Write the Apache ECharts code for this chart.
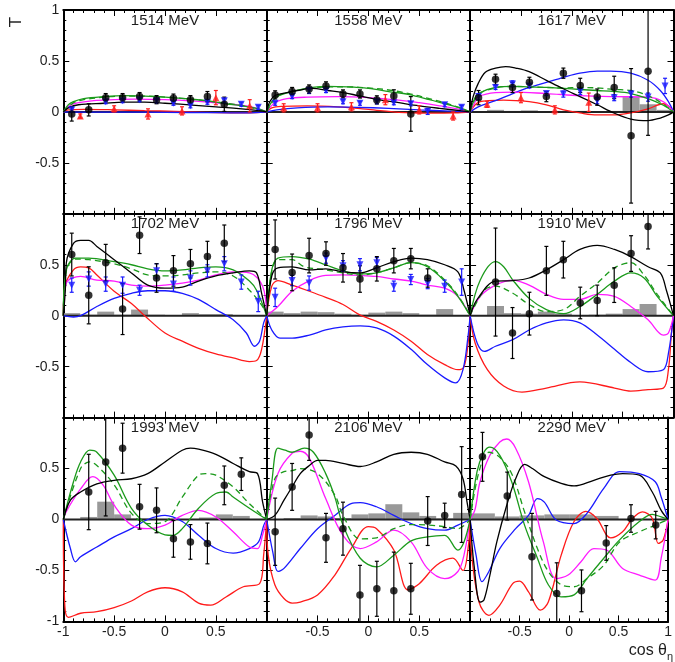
<!DOCTYPE html>
<html>
<head>
<meta charset="utf-8">
<script src="https://cdn.jsdelivr.net/npm/echarts@6/dist/echarts.min.js"></script>
<style>
html,body{margin:0;padding:0;background:#fff;}
#chart{width:675px;height:662px;}
</style>
</head>
<body>
<div id="chart"></div>
<script>
// Beam-target asymmetry T versus cos(theta_eta), nine energy bins.

const energyLabels = ['1514 MeV','1558 MeV','1617 MeV','1702 MeV','1796 MeV','1910 MeV','1993 MeV','2106 MeV','2290 MeV'];

// angular bin centres
const cos12 = [-0.917,-0.75,-0.583,-0.417,-0.25,-0.083,0.083,0.25,0.417,0.583,0.75,0.917];
const cos8 = [-0.875,-0.625,-0.375,-0.125,0.125,0.375,0.625,0.875];
const cos6 = [-0.833,-0.5,-0.167,0.167,0.5,0.833];

// filled circles: T and uncertainty
const dotT_1514 = [-0.02,0.02,0.14,0.14,0.15,0.12,0.135,0.12,0.15,0.075,null,null];
const dotE_1514 = [0.07,0.06,0.04,0.04,0.04,0.04,0.04,0.04,0.05,0.07,0,0];
const dotT_1558 = [0.167,0.2,0.225,0.255,0.176,0.176,0.118,0.157,-0.02,null,null,null];
const dotE_1558 = [0.04,0.04,0.04,0.04,0.04,0.04,0.04,0.06,0.17,0,0,0];
const dotT_1617 = [0.14,0.32,0.24,0.29,0.15,0.38,0.26,0.145,0.24,-0.235,0.40,null];
const dotE_1617 = [0.07,0.05,0.05,0.05,0.05,0.05,0.07,0.08,0.11,0.66,0.63,0];
const dotT_1702 = [0.60,0.20,0.52,0.065,0.79,0.37,0.44,0.51,0.58,0.71,null,null];
const dotE_1702 = [0.21,0.28,0.18,0.25,0.18,0.14,0.15,0.14,0.15,0.18,0,0];
const dotT_1796 = [0.65,0.425,0.59,0.61,0.47,0.36,0.46,0.54,0.56,0.37,null,null];
const dotE_1796 = [0.29,0.18,0.17,0.115,0.14,0.13,0.12,0.12,0.1,0.09,0,0];
const dotT_1910 = [null,0.33,-0.17,0.02,0.44,0.55,0.125,0.15,0.30,0.61,0.875,null];
const dotE_1910 = [0,0.53,0.25,0.21,0.24,0.18,0.155,0.15,0.17,0.175,0.22,0];
const dotT_1993 = [null,0.27,0.565,0.70,0.125,0.09,-0.19,-0.22,-0.235,0.335,0.445,null];
const dotE_1993 = [0,0.37,0.53,0.245,0.22,0.22,0.18,0.17,0.2,0.19,0.16,0];
const dotT_2106 = [-0.12,0.32,0.83,-0.18,-0.09,-0.74,-0.68,-0.70,-0.68,-0.015,0.04,0.245];
const dotE_2106 = [0.33,0.23,0.25,0.24,0.26,0.29,0.27,0.38,0.25,0.24,0.12,0.47];
const dotT_2290 = [0.615,0.23,-0.365,-0.725,-0.70,-0.23,0.01,-0.055];
const dotE_2290 = [0.24,0.235,0.425,0.3,0.205,0.17,0.135,0.135];

// red up-triangles
const upT_1514 = [-0.04,0.03,-0.02,0.01,0.14,0.06];
const upE_1514 = [0.02,0.03,0.05,0.04,0.07,0.06];
const upT_1558 = [0.04,0.04,0.05,0.12,0.02,-0.04];
const upE_1558 = [0.04,0.04,0.04,0.05,0.04,0.04];
const upT_1617 = [0.075,0.14,0.02,0.095,null,null];
const upE_1617 = [0.03,0.05,0.04,0.09,0,0];

// blue down-triangles
const downT_1514 = [0.02,null,0.10,0.11,0.12,0.11,0.085,0.06,0.095,0.11,0.075,0.045];
const downE_1514 = [0.02,0,0.02,0.02,0.02,0.02,0.02,0.02,0.02,0.02,0.02,0.02];
const downT_1558 = [0.085,0.15,0.21,0.21,0.10,0.085,0.10,0.09,0.08,0.005,0.07,0.045];
const downE_1558 = [0.02,0.02,0.03,0.02,0.02,0.02,0.02,0.02,0.02,0.03,0.02,0.02];
const downT_1617 = [0.15,0.24,0.275,0.255,0.18,0.175,0.20,0.11,0.14,0.175,0.145,0.255];
const downE_1617 = [0.03,0.02,0.03,0.02,0.02,0.03,0.03,0.03,0.03,0.03,0.04,0.075];
const downT_1702 = [0.30,0.36,0.31,0.30,0.25,0.44,0.31,0.37,0.44,0.51,0.33,0.14];
const downE_1702 = [0.07,0.07,0.07,0.08,0.05,0.07,0.07,0.07,0.06,0.07,0.07,0.1];
const downT_1796 = [0.18,0.345,0.32,0.565,0.49,0.50,0.52,0.29,0.355,0.315,0.29,0.33];
const downE_1796 = [0.09,0.05,0.07,0.05,0.05,0.06,0.05,0.05,0.05,0.05,0.06,0.13];

// systematic uncertainty (grey histogram)
const sys_1514 = [0,0,0,0,0,0,0,0,0,0,0,0];
const sys_1558 = [0,0,0,0,0,0,0,0,0,0,0,0];
const sys_1617 = [0.005,0.02,0.01,0.015,0.005,0.01,0.01,0.005,0.01,0.145,0.075,0.02];
const sys_1702 = [0.025,0.01,0.04,0.01,0.06,0.01,0.005,0.025,0.015,0.015,0,0.005];
const sys_1796 = [0.04,0.025,0.04,0.035,0.02,0.01,0.03,0.04,0.025,0.01,0.065,0];
const sys_1910 = [0,0.095,0.025,0.02,0.04,0.02,0.005,0.01,0.02,0.065,0.115,0];
const sys_1993 = [0,0.025,0.175,0.05,0.01,0.005,0,0.005,0.02,0.05,0.035,0];
const sys_2106 = [0.005,0.015,0.04,0.03,0.015,0.05,0.06,0.15,0.07,0.035,0.01,0.065];
const sys_2290 = [0.06,0.03,0.04,0.05,0.05,0.035,0.005,0.005];

// model curves [cos, T]
const black_1514 = [[-1,0],[-0.95,0.04],[-0.85,0.07],[-0.6,0.085],[-0.4,0.095],[-0.2,0.095],[0,0.085],[0.3,0.065],[0.5,0.05],[0.7,0.035],[0.9,0.015],[1,0]];
const red_1514 = [[-1,0],[-0.95,0.02],[-0.8,0.025],[-0.5,0.02],[-0.2,0.012],[0.1,0.005],[0.4,-0.005],[0.7,-0.01],[0.9,-0.008],[1,0]];
const blue_1514 = [[-1,0],[-0.9,-0.002],[-0.5,-0.002],[0,-0.004],[0.5,-0.008],[0.8,-0.01],[1,0]];
const green_1514 = [[-1,0],[-0.95,0.07],[-0.9,0.10],[-0.8,0.13],[-0.6,0.15],[-0.4,0.16],[-0.2,0.155],[0,0.145],[0.2,0.13],[0.4,0.11],[0.6,0.08],[0.75,0.06],[0.9,0.035],[1,0]];
const greenDash_1514 = [[-1,0],[-0.9,0.09],[-0.8,0.12],[-0.6,0.145],[-0.4,0.155],[-0.2,0.155],[0,0.145],[0.2,0.13],[0.4,0.11],[0.6,0.085],[0.8,0.055],[1,0]];
const magenta_1514 = [[-1,0],[-0.95,0.05],[-0.9,0.08],[-0.7,0.11],[-0.5,0.12],[-0.3,0.125],[0,0.12],[0.3,0.105],[0.5,0.09],[0.7,0.07],[0.85,0.05],[1,0]];

const black_1558 = [[-1,0],[-0.97,0.1],[-0.92,0.16],[-0.8,0.19],[-0.7,0.21],[-0.55,0.23],[-0.4,0.21],[-0.25,0.19],[-0.1,0.16],[0.1,0.12],[0.3,0.09],[0.5,0.06],[0.7,0.035],[0.9,0.012],[1,0]];
const red_1558 = [[-1,0],[-0.95,0.04],[-0.85,0.055],[-0.6,0.06],[-0.3,0.05],[0,0.025],[0.3,-0.005],[0.6,-0.012],[0.85,-0.01],[1,0]];
const blue_1558 = [[-1,0],[-0.9,0.02],[-0.7,0.04],[-0.4,0.05],[-0.1,0.045],[0.2,0.035],[0.5,0.02],[0.8,0.008],[1,0]];
const green_1558 = [[-1,0],[-0.95,0.1],[-0.9,0.15],[-0.75,0.2],[-0.55,0.24],[-0.4,0.25],[-0.2,0.245],[0,0.23],[0.2,0.2],[0.4,0.17],[0.6,0.12],[0.75,0.08],[0.9,0.04],[1,0]];
const greenDash_1558 = [[-1,0],[-0.9,0.15],[-0.75,0.2],[-0.55,0.235],[-0.4,0.245],[-0.2,0.245],[0,0.235],[0.2,0.215],[0.4,0.18],[0.6,0.13],[0.75,0.09],[0.9,0.04],[1,0]];
const magenta_1558 = [[-1,0],[-0.92,0.09],[-0.8,0.13],[-0.6,0.145],[-0.3,0.15],[0,0.14],[0.3,0.115],[0.5,0.09],[0.7,0.06],[0.9,0.025],[1,0]];

const black_1617 = [[-1,0],[-0.97,0.15],[-0.92,0.28],[-0.85,0.39],[-0.75,0.43],[-0.65,0.445],[-0.55,0.43],[-0.42,0.395],[-0.25,0.31],[-0.09,0.23],[0.08,0.15],[0.25,0.07],[0.42,-0.013],[0.58,-0.07],[0.75,-0.085],[0.87,-0.06],[0.95,-0.03],[1,0]];
const red_1617 = [[-1,0],[-0.95,0.07],[-0.9,0.1],[-0.82,0.11],[-0.67,0.115],[-0.42,0.1],[-0.25,0.07],[-0.08,0.02],[0.08,-0.01],[0.25,-0.03],[0.42,-0.03],[0.58,-0.01],[0.75,0.03],[0.9,0.08],[0.96,0.05],[1,0]];
const blue_1617 = [[-1,0],[-0.92,0.05],[-0.75,0.11],[-0.58,0.18],[-0.42,0.24],[-0.25,0.29],[-0.08,0.34],[0.08,0.38],[0.25,0.40],[0.38,0.40],[0.58,0.38],[0.75,0.31],[0.87,0.21],[0.95,0.1],[1,0]];
const green_1617 = [[-1,0],[-0.96,0.12],[-0.92,0.18],[-0.75,0.24],[-0.58,0.25],[-0.42,0.245],[-0.25,0.24],[-0.08,0.23],[0.08,0.22],[0.25,0.21],[0.42,0.20],[0.58,0.18],[0.75,0.13],[0.9,0.065],[1,0]];
const greenDash_1617 = [[-1,0],[-0.92,0.17],[-0.75,0.235],[-0.58,0.25],[-0.42,0.245],[-0.25,0.24],[-0.08,0.235],[0.08,0.24],[0.25,0.235],[0.42,0.22],[0.58,0.21],[0.75,0.16],[0.9,0.075],[1,0]];
const magenta_1617 = [[-1,0],[-0.95,0.1],[-0.92,0.15],[-0.75,0.19],[-0.58,0.195],[-0.25,0.18],[0.08,0.16],[0.42,0.15],[0.75,0.145],[0.9,0.1],[1,0]];

const black_1702 = [[-1,0],[-0.98,0.25],[-0.97,0.52],[-0.9,0.71],[-0.83,0.74],[-0.75,0.74],[-0.67,0.68],[-0.5,0.55],[-0.33,0.42],[-0.17,0.30],[0,0.27],[0.17,0.28],[0.33,0.34],[0.5,0.39],[0.67,0.42],[0.83,0.44],[0.9,0.42],[0.95,0.22],[1,0]];
const red_1702 = [[-1,0],[-0.98,0.3],[-0.9,0.45],[-0.83,0.48],[-0.75,0.47],[-0.67,0.40],[-0.5,0.24],[-0.33,0.12],[-0.2,0],[0,-0.17],[0.17,-0.25],[0.33,-0.32],[0.5,-0.375],[0.67,-0.415],[0.83,-0.45],[0.9,-0.44],[0.95,-0.33],[1,0]];
const blue_1702 = [[-1,0],[-0.9,-0.013],[-0.83,0],[-0.67,0.09],[-0.5,0.17],[-0.33,0.22],[-0.17,0.245],[0,0.245],[0.17,0.22],[0.33,0.16],[0.5,0.06],[0.67,-0.04],[0.8,-0.17],[0.88,-0.30],[0.93,-0.25],[0.97,-0.07],[1,0]];
const green_1702 = [[-1,0],[-0.97,0.45],[-0.88,0.565],[-0.75,0.565],[-0.5,0.53],[-0.33,0.50],[-0.17,0.46],[0,0.44],[0.17,0.45],[0.33,0.47],[0.5,0.48],[0.67,0.45],[0.83,0.34],[0.9,0.25],[1,0]];
const greenDash_1702 = [[-1,0],[-0.97,0.44],[-0.88,0.555],[-0.75,0.55],[-0.5,0.51],[-0.33,0.46],[-0.17,0.40],[0,0.39],[0.17,0.40],[0.33,0.42],[0.5,0.43],[0.67,0.39],[0.83,0.25],[0.96,0.09],[1,0]];
const magenta_1702 = [[-1,0],[-0.97,0.32],[-0.83,0.385],[-0.67,0.35],[-0.5,0.34],[-0.33,0.30],[-0.17,0.29],[0,0.30],[0.17,0.32],[0.33,0.35],[0.5,0.40],[0.67,0.43],[0.83,0.42],[0.96,0.29],[1,0]];

const black_1796 = [[-1,0],[-0.95,0.39],[-0.89,0.47],[-0.75,0.48],[-0.58,0.45],[-0.42,0.46],[-0.25,0.43],[-0.08,0.42],[0.08,0.47],[0.25,0.53],[0.42,0.565],[0.58,0.55],[0.75,0.50],[0.88,0.43],[0.94,0.25],[1,0]];
const red_1796 = [[-1,0],[-0.95,0.29],[-0.89,0.345],[-0.75,0.30],[-0.58,0.24],[-0.42,0.18],[-0.25,0.11],[-0.08,0.005],[0.08,-0.055],[0.25,-0.14],[0.42,-0.25],[0.58,-0.38],[0.75,-0.48],[0.88,-0.53],[0.94,-0.5],[0.98,-0.27],[1,0]];
const blue_1796 = [[-1,0],[-0.95,-0.14],[-0.87,-0.22],[-0.75,-0.22],[-0.58,-0.19],[-0.42,-0.14],[-0.25,-0.11],[-0.08,-0.10],[0.08,-0.12],[0.25,-0.2],[0.42,-0.33],[0.58,-0.48],[0.75,-0.61],[0.86,-0.66],[0.93,-0.53],[0.98,-0.2],[1,0]];
const green_1796 = [[-1,0],[-0.95,0.45],[-0.89,0.565],[-0.75,0.58],[-0.58,0.555],[-0.42,0.50],[-0.25,0.44],[-0.08,0.41],[0.08,0.42],[0.25,0.47],[0.42,0.52],[0.58,0.48],[0.75,0.34],[0.88,0.19],[1,0]];
const greenDash_1796 = [[-1,0],[-0.95,0.44],[-0.89,0.55],[-0.75,0.55],[-0.63,0.48],[-0.42,0.45],[-0.25,0.42],[-0.08,0.40],[0.08,0.42],[0.25,0.47],[0.42,0.52],[0.58,0.49],[0.75,0.35],[0.88,0.2],[1,0]];
const magenta_1796 = [[-1,0],[-0.89,0.09],[-0.75,0.24],[-0.58,0.345],[-0.42,0.395],[-0.25,0.40],[-0.08,0.395],[0.08,0.385],[0.25,0.36],[0.42,0.34],[0.58,0.30],[0.75,0.27],[0.88,0.19],[1,0]];

const black_1910 = [[-1,0],[-0.93,0.16],[-0.75,0.34],[-0.58,0.345],[-0.42,0.37],[-0.25,0.45],[-0.08,0.55],[0.08,0.65],[0.25,0.69],[0.42,0.65],[0.58,0.58],[0.75,0.48],[0.87,0.42],[0.93,0.25],[1,0]];
const red_1910 = [[-1,0],[-0.95,-0.27],[-0.83,-0.53],[-0.67,-0.69],[-0.49,-0.75],[-0.25,-0.71],[0.08,-0.65],[0.42,-0.71],[0.58,-0.74],[0.75,-0.725],[0.9,-0.71],[0.95,-0.53],[0.98,-0.17],[1,0]];
const blue_1910 = [[-1,0],[-0.93,-0.27],[-0.86,-0.35],[-0.75,-0.30],[-0.58,-0.235],[-0.42,-0.14],[-0.25,-0.07],[-0.08,-0.04],[0.08,-0.07],[0.25,-0.19],[0.42,-0.33],[0.58,-0.46],[0.75,-0.55],[0.9,-0.53],[0.95,-0.37],[1,0]];
const green_1910 = [[-1,0],[-0.9,0.35],[-0.75,0.53],[-0.67,0.48],[-0.58,0.35],[-0.42,0.17],[-0.25,0.06],[-0.08,0.02],[0.08,0.09],[0.25,0.21],[0.42,0.34],[0.58,0.42],[0.71,0.37],[0.84,0.19],[1,0]];
const greenDash_1910 = [[-1,0],[-0.86,0.25],[-0.75,0.29],[-0.58,0.22],[-0.42,0.11],[-0.25,0.04],[-0.08,0.06],[0.08,0.19],[0.25,0.32],[0.42,0.47],[0.58,0.52],[0.71,0.40],[0.84,0.21],[1,0]];
const magenta_1910 = [[-1,0],[-0.9,0.19],[-0.75,0.30],[-0.58,0.35],[-0.42,0.30],[-0.25,0.21],[-0.08,0.16],[0.08,0.16],[0.25,0.21],[0.42,0.19],[0.58,0.09],[0.75,-0.04],[0.9,-0.19],[0.95,-0.17],[1,0]];

const black_1993 = [[-1,0],[-0.93,0.19],[-0.83,0.27],[-0.67,0.35],[-0.5,0.385],[-0.33,0.40],[-0.17,0.45],[0,0.565],[0.17,0.68],[0.25,0.70],[0.33,0.69],[0.5,0.64],[0.67,0.55],[0.83,0.47],[0.91,0.45],[0.96,0.17],[1,0]];
const red_1993 = [[-1,0],[-0.985,-0.85],[-0.95,-0.96],[-0.83,-0.92],[-0.67,-0.905],[-0.5,-0.865],[-0.33,-0.80],[-0.17,-0.71],[0,-0.67],[0.17,-0.71],[0.33,-0.82],[0.45,-0.84],[0.6,-0.76],[0.77,-0.66],[0.93,-0.63],[0.97,-0.35],[1,0]];
const blue_1993 = [[-1,0],[-0.93,-0.285],[-0.88,-0.415],[-0.83,-0.365],[-0.67,-0.27],[-0.5,-0.17],[-0.33,-0.09],[-0.17,0],[0,0.04],[0.17,-0.02],[0.33,-0.155],[0.5,-0.285],[0.67,-0.33],[0.83,-0.285],[0.92,-0.22],[0.97,-0.06],[1,0]];
const green_1993 = [[-1,0],[-0.9,0.37],[-0.83,0.565],[-0.74,0.68],[-0.67,0.66],[-0.5,0.435],[-0.33,0.11],[-0.17,-0.055],[0,-0.15],[0.08,-0.155],[0.17,-0.09],[0.33,0.11],[0.5,0.255],[0.6,0.27],[0.67,0.22],[0.83,0.11],[1,0]];
const greenDash_1993 = [[-1,0],[-0.83,0.5],[-0.74,0.565],[-0.67,0.53],[-0.5,0.34],[-0.33,0.06],[-0.17,-0.04],[0,-0.02],[0.17,0.22],[0.33,0.435],[0.4,0.45],[0.5,0.435],[0.67,0.32],[0.83,0.155],[1,0]];
const magenta_1993 = [[-1,0],[-0.97,0.08],[-0.83,0.30],[-0.71,0.42],[-0.61,0.34],[-0.5,0.14],[-0.33,-0.055],[-0.17,-0.09],[0,-0.055],[0.17,0.04],[0.33,0.09],[0.5,0.025],[0.67,-0.12],[0.83,-0.27],[0.91,-0.285],[0.96,-0.15],[1,0]];

const black_2106 = [[-1,0],[-0.92,0.04],[-0.83,0.19],[-0.75,0.32],[-0.67,0.45],[-0.58,0.53],[-0.5,0.58],[-0.42,0.58],[-0.25,0.55],[-0.08,0.52],[0.08,0.565],[0.25,0.64],[0.42,0.66],[0.58,0.64],[0.75,0.565],[0.86,0.525],[0.93,0.40],[0.97,0.17],[1,0]];
const red_2106 = [[-1,0],[-0.985,-0.35],[-0.92,-0.64],[-0.83,-0.775],[-0.75,-0.82],[-0.67,-0.81],[-0.5,-0.74],[-0.33,-0.545],[-0.17,-0.285],[0,-0.07],[0.08,-0.09],[0.25,-0.3],[0.39,-0.69],[0.5,-0.63],[0.67,-0.45],[0.83,-0.38],[0.93,-0.5],[0.98,-0.285],[1,0]];
const blue_2106 = [[-1,0],[-0.94,-0.32],[-0.89,-0.51],[-0.83,-0.48],[-0.67,-0.285],[-0.5,-0.09],[-0.33,0.04],[-0.17,0.155],[-0.08,0.165],[0.08,0.125],[0.25,0.04],[0.42,-0.04],[0.58,-0.09],[0.75,-0.105],[0.88,-0.055],[1,0]];
const green_2106 = [[-1,0],[-0.95,0.37],[-0.89,0.70],[-0.82,0.68],[-0.75,0.66],[-0.63,0.70],[-0.54,0.66],[-0.42,0.45],[-0.33,0.22],[-0.25,-0.055],[-0.08,-0.38],[0.08,-0.465],[0.25,-0.35],[0.42,-0.21],[0.58,-0.17],[0.75,-0.155],[0.88,-0.30],[0.94,-0.22],[1,0]];
const greenDash_2106 = [[-1,0],[-0.92,0.40],[-0.83,0.47],[-0.75,0.48],[-0.67,0.5],[-0.5,0.45],[-0.33,0.24],[-0.25,0.04],[-0.08,-0.19],[0.08,-0.18],[0.25,-0.09],[0.42,-0.05],[0.58,-0.055],[0.75,-0.07],[0.88,-0.09],[1,0]];
const magenta_2106 = [[-1,0],[-0.89,0.45],[-0.75,0.65],[-0.67,0.67],[-0.58,0.60],[-0.42,0.205],[-0.25,-0.155],[-0.08,-0.285],[0.08,-0.22],[0.25,-0.105],[0.42,-0.22],[0.58,-0.48],[0.75,-0.58],[0.88,-0.51],[0.94,-0.35],[1,0]];

const black_2290 = [[-1,0],[-0.96,-0.45],[-0.9,-0.81],[-0.86,-0.79],[-0.8,-0.545],[-0.73,-0.22],[-0.63,0.14],[-0.54,0.40],[-0.45,0.54],[-0.37,0.50],[-0.25,0.42],[-0.08,0.355],[0.05,0.33],[0.25,0.385],[0.42,0.435],[0.54,0.45],[0.71,0.435],[0.84,0.27],[0.93,0.09],[1,0]];
const red_2290 = [[-1,0],[-0.99,-0.285],[-0.91,-0.81],[-0.81,-0.94],[-0.7,-0.84],[-0.57,-0.63],[-0.5,-0.605],[-0.41,-0.71],[-0.29,-0.89],[-0.21,-0.81],[-0.08,-0.35],[0.05,-0.02],[0.17,0.08],[0.28,0.01],[0.42,-0.18],[0.54,-0.12],[0.64,0.01],[0.74,0.075],[0.84,0.01],[0.9,-0.235],[0.95,-0.2],[1,0]];
const blue_2290 = [[-1,0],[-0.94,-0.35],[-0.88,-0.61],[-0.81,-0.51],[-0.7,-0.285],[-0.54,-0.09],[-0.41,0.04],[-0.32,0.205],[-0.25,0.17],[-0.13,-0.005],[0.05,-0.04],[0.18,0.06],[0.35,0.305],[0.51,0.47],[0.71,0.45],[0.87,0.37],[0.93,0.22],[1,0]];
const green_2290 = [[-1,0],[-0.93,0.47],[-0.86,0.66],[-0.8,0.71],[-0.7,0.63],[-0.58,0.37],[-0.45,-0.055],[-0.32,-0.38],[-0.21,-0.64],[-0.08,-0.76],[0.05,-0.74],[0.18,-0.58],[0.35,-0.38],[0.51,-0.2],[0.71,-0.02],[0.84,0.05],[0.93,0.025],[1,0]];
const greenDash_2290 = [[-1,0],[-0.91,0.47],[-0.81,0.66],[-0.7,0.61],[-0.58,0.45],[-0.45,0.075],[-0.32,-0.285],[-0.21,-0.51],[-0.08,-0.64],[0.05,-0.66],[0.18,-0.58],[0.35,-0.45],[0.51,-0.22],[0.71,-0.12],[0.87,-0.055],[1,0]];
const magenta_2290 = [[-1,0],[-0.95,0.1],[-0.9,0.37],[-0.8,0.63],[-0.7,0.76],[-0.63,0.79],[-0.54,0.70],[-0.41,0.37],[-0.26,-0.22],[-0.13,-0.58],[-0.01,-0.545],[0.12,-0.415],[0.25,-0.285],[0.38,-0.30],[0.54,-0.48],[0.71,-0.545],[0.87,-0.595],[0.93,-0.38],[1,0]];

// axis ticks
const tickValues = [-1,-0.5,0,0.5,1];

// ---- assemble panels ----
const panels = [
  {label:energyLabels[0], cos:cos12, dotT:dotT_1514, dotE:dotE_1514, upT:upT_1514, upE:upE_1514, downT:downT_1514, downE:downE_1514, sys:sys_1514,
   curves:{red:red_1514, blue:blue_1514, magenta:magenta_1514, greenDash:greenDash_1514, green:green_1514, black:black_1514}},
  {label:energyLabels[1], cos:cos12, dotT:dotT_1558, dotE:dotE_1558, upT:upT_1558, upE:upE_1558, downT:downT_1558, downE:downE_1558, sys:sys_1558,
   curves:{red:red_1558, blue:blue_1558, magenta:magenta_1558, greenDash:greenDash_1558, green:green_1558, black:black_1558}},
  {label:energyLabels[2], cos:cos12, dotT:dotT_1617, dotE:dotE_1617, upT:upT_1617, upE:upE_1617, downT:downT_1617, downE:downE_1617, sys:sys_1617,
   curves:{red:red_1617, blue:blue_1617, magenta:magenta_1617, greenDash:greenDash_1617, green:green_1617, black:black_1617}},
  {label:energyLabels[3], cos:cos12, dotT:dotT_1702, dotE:dotE_1702, downT:downT_1702, downE:downE_1702, sys:sys_1702,
   curves:{red:red_1702, blue:blue_1702, magenta:magenta_1702, greenDash:greenDash_1702, green:green_1702, black:black_1702}},
  {label:energyLabels[4], cos:cos12, dotT:dotT_1796, dotE:dotE_1796, downT:downT_1796, downE:downE_1796, sys:sys_1796,
   curves:{red:red_1796, blue:blue_1796, magenta:magenta_1796, greenDash:greenDash_1796, green:green_1796, black:black_1796}},
  {label:energyLabels[5], cos:cos12, dotT:dotT_1910, dotE:dotE_1910, sys:sys_1910,
   curves:{red:red_1910, blue:blue_1910, magenta:magenta_1910, greenDash:greenDash_1910, green:green_1910, black:black_1910}},
  {label:energyLabels[6], cos:cos12, dotT:dotT_1993, dotE:dotE_1993, sys:sys_1993,
   curves:{red:red_1993, blue:blue_1993, magenta:magenta_1993, greenDash:greenDash_1993, green:green_1993, black:black_1993}},
  {label:energyLabels[7], cos:cos12, dotT:dotT_2106, dotE:dotE_2106, sys:sys_2106,
   curves:{red:red_2106, blue:blue_2106, magenta:magenta_2106, greenDash:greenDash_2106, green:green_2106, black:black_2106}},
  {label:energyLabels[8], cos:cos8, dotT:dotT_2290, dotE:dotE_2290, sys:sys_2290,
   curves:{red:red_2290, blue:blue_2290, magenta:magenta_2290, greenDash:greenDash_2290, green:green_2290, black:black_2290}}
];

const FONT = '"Liberation Sans", Arial, Helvetica, sans-serif';
const TXT = '#1e1e1e';
const COLORS = {red:'#ff1a1a', blue:'#1a1aff', magenta:'#ff1aff', green:'#1b9a1b', greenDash:'#1b9a1b', black:'#000000'};

const X0 = 63.3, Y0 = 10, PW = 203.4, PH = 203.8;

const grids = [], xAxes = [], yAxes = [], series = [], graphics = [];

function fmtTick(v){ return String(v); }

panels.forEach((p, i) => {
  const col = i % 3, row = Math.floor(i / 3);
  const left = X0 + col * PW, top = Y0 + row * PH;
  grids.push({left:left, top:top, width:PW, height:PH, containLabel:false});

  const axisCommon = {
    type:'value', gridIndex:i, min:-1, max:1, interval:0.5,
    axisLine:{show:true, onZero:false, lineStyle:{color:'#000', width:2}},
    axisTick:{show:true, inside:true, length:6, lineStyle:{color:'#000', width:1}},
    minorTick:{show:true, splitNumber:5, length:3, lineStyle:{color:'#000', width:1}},
    splitLine:{show:false}, minorSplitLine:{show:false}
  };
  const hideX = v => (v === 1 && col < 2) || (v === -1 && col > 0);
  const hideY = v => (v === -1 && row < 2) || (v === 1 && row > 0);
  xAxes.push(Object.assign({}, axisCommon, {
    position:'bottom',
    axisLabel:{show: row === 2, margin:4, fontSize:14, fontFamily:FONT, color:TXT,
      showMinLabel:true, showMaxLabel:true,
      formatter: v => hideX(v) ? '' : fmtTick(v)}
  }));
  yAxes.push(Object.assign({}, axisCommon, {
    position:'left',
    axisLabel:{show: col === 0, margin:4, fontSize:14, fontFamily:FONT, color:TXT,
      showMinLabel:true, showMaxLabel:true,
      formatter: v => hideY(v) ? '' : fmtTick(v)}
  }));

  graphics.push({type:'text', x:left + PW / 2, y:top + 10.5,
    style:{text:p.label, fontSize:15, fontFamily:FONT, fill:TXT, align:'center', verticalAlign:'middle'}});
});

// mirror axes on top and right edges (ticks only)
panels.forEach((p, i) => {
  const common = {
    type:'value', gridIndex:i, min:-1, max:1, interval:0.5,
    axisLine:{show:true, onZero:false, lineStyle:{color:'#000', width:2}},
    axisTick:{show:true, inside:true, length:6, lineStyle:{color:'#000', width:1}},
    minorTick:{show:true, splitNumber:5, length:3, lineStyle:{color:'#000', width:1}},
    splitLine:{show:false}, axisLabel:{show:false}
  };
  xAxes.push(Object.assign({}, common, {position:'top'}));
  yAxes.push(Object.assign({}, common, {position:'right'}));
});

function pointsWithErrors(xs, ts, es) {
  const out = [];
  ts.forEach((t, k) => { if (t !== null && t !== undefined) out.push([xs[k], t, es[k]]); });
  return out;
}

function errorSeries(i, data, color) {
  return {
    type:'custom', xAxisIndex:i, yAxisIndex:i, z:5, silent:true, data:data,
    renderItem:(params, api) => {
      const x = api.value(0), y = api.value(1), e = api.value(2);
      const hi = Math.min(1, y + e), lo = Math.max(-1, y - e);
      const a = api.coord([x, hi]), b = api.coord([x, lo]);
      const st = {stroke:color, lineWidth:1.2};
      const ch = [{type:'line', shape:{x1:a[0], y1:a[1], x2:b[0], y2:b[1]}, style:st}];
      if (y + e < 1) ch.push({type:'line', shape:{x1:a[0] - 2, y1:a[1], x2:a[0] + 2, y2:a[1]}, style:st});
      if (y - e > -1) ch.push({type:'line', shape:{x1:b[0] - 2, y1:b[1], x2:b[0] + 2, y2:b[1]}, style:st});
      return {type:'group', children:ch};
    }
  };
}

panels.forEach((p, i) => {
  const w = p.cos[1] - p.cos[0];
  // systematic band histogram
  series.push({
    type:'custom', xAxisIndex:i, yAxisIndex:i, z:1, silent:true,
    data: p.sys.map((h, k) => [p.cos[k], h]).filter(d => d[1] > 0),
    renderItem:(params, api) => {
      const c = api.value(0), h = api.value(1);
      const a = api.coord([c - w / 2, h]), b = api.coord([c + w / 2, 0]);
      return {type:'rect', shape:{x:a[0], y:a[1], width:b[0] - a[0], height:b[1] - a[1]}, style:{fill:'#999999'}};
    }
  });
  // zero line
  series.push({type:'line', xAxisIndex:i, yAxisIndex:i, z:2, silent:true, symbol:'none',
    data:[[-1,0],[1,0]], lineStyle:{color:'#222', width:2}});
  // model curves
  Object.keys(p.curves).forEach(name => {
    series.push({type:'line', xAxisIndex:i, yAxisIndex:i, z:3, silent:true, symbol:'none',
      smooth:0.35, data:p.curves[name],
      lineStyle:{color:COLORS[name], width:1.3, type: name === 'greenDash' ? [6, 4] : 'solid'}});
  });
  // data: blue down-triangles
  if (p.downT) {
    const d = pointsWithErrors(cos12, p.downT, p.downE);
    series.push(errorSeries(i, d, '#1a1aff'));
    series.push({type:'scatter', xAxisIndex:i, yAxisIndex:i, z:6, silent:true, data:d.map(v => [v[0], v[1]]),
      symbol:'triangle', symbolRotate:180, symbolSize:7, itemStyle:{color:'#1a1aff'}});
  }
  // data: red up-triangles
  if (p.upT) {
    const d = pointsWithErrors(cos6, p.upT, p.upE);
    series.push(errorSeries(i, d, '#ff1a1a'));
    series.push({type:'scatter', xAxisIndex:i, yAxisIndex:i, z:6, silent:true, data:d.map(v => [v[0], v[1]]),
      symbol:'triangle', symbolSize:7, itemStyle:{color:'#ff1a1a'}});
  }
  // data: black circles
  const d = pointsWithErrors(p.cos, p.dotT, p.dotE);
  series.push(errorSeries(i, d, '#000'));
  series.push({type:'scatter', xAxisIndex:i, yAxisIndex:i, z:7, silent:true, data:d.map(v => [v[0], v[1]]),
    symbol:'circle', symbolSize:7.5, itemStyle:{color:'#000'}});
});

// axis titles
graphics.push({type:'text', x:16, y:22, rotation:Math.PI / 2,
  style:{text:'T', fontSize:17, fontFamily:FONT, fill:TXT, align:'center', verticalAlign:'middle'}});
graphics.push({type:'text', x:667, y:651,
  style:{text:'cos θ', fontSize:16, fontFamily:FONT, fill:TXT, align:'right', verticalAlign:'middle'}});
graphics.push({type:'text', x:667, y:657,
  style:{text:'η', fontSize:11, fontFamily:FONT, fill:TXT, align:'left', verticalAlign:'middle'}});

const chart = echarts.init(document.getElementById('chart'), null, {renderer:'canvas'});
chart.setOption({
  animation:false,
  backgroundColor:'#ffffff',
  grid:grids, xAxis:xAxes, yAxis:yAxes, series:series, graphic:graphics
});
</script>
</body>
</html>
